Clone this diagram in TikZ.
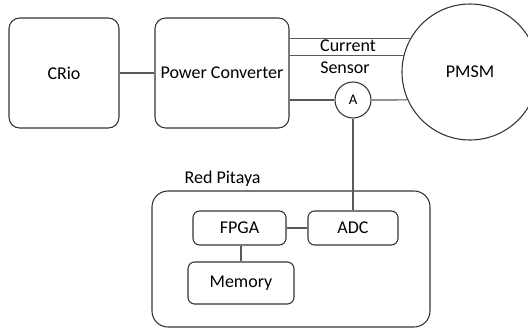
\documentclass[tikz,border=0pt]{standalone}
\usepackage{fontspec}
\setmainfont{Carlito}
\usetikzlibrary{positioning, fit, backgrounds}
\tikzset{
    blockbox/.style = {draw=black!80, line width=0.8pt, rounded corners=8pt, align=center,
                       inner sep=2pt, font=\fontsize{13.5}{16}\selectfont},
    subbox/.style   = {blockbox, rounded corners=5pt},
    motor/.style    = {draw=black!80, line width=0.8pt, circle, font=\fontsize{13.5}{16}\selectfont},
    meter/.style    = {draw=black!80, line width=0.8pt, circle, inner sep=0pt,
                       minimum size=36*0.75pt, font=\fontsize{11}{13}\selectfont},
    wire/.style     = {draw=black!65, line width=0.9pt},
    beschr/.style   = {font=\fontsize{13.5}{16}\selectfont, inner sep=1pt}
}

\begin{document}
\begin{tikzpicture}[x=0.75pt, y=-0.75pt]
        \useasboundingbox (0,0) rectangle (528,329);
        \clip (0,0) rectangle (528,329);

        \node[blockbox, minimum width=110*0.75pt, minimum height=110*0.75pt] (crio) at (64,73) {CRio};
        \node[blockbox, minimum width=134*0.75pt, minimum height=110*0.75pt] (pc) at (222,73) {Power Converter};
        \node[motor, minimum size=136*0.75pt] (pmsm) at (470,72) {PMSM};
        \node[meter] (amp) at (353,100) {A};

        \node[beschr] (cur) at (348,46) {Current};
        \node[beschr] (sens) at (345,68) {Sensor};

        % red pitaya board
        \node[blockbox, rounded corners=12pt, minimum width=278*0.75pt, minimum height=136*0.75pt] (rp) at (291,259) {};
        \node[beschr, anchor=south west] (rplab) at (183,188) {Red Pitaya};
        \node[subbox, minimum width=93*0.75pt, minimum height=34*0.75pt] (fpga) at (239.5,228) {FPGA};
        \node[subbox, minimum width=90*0.75pt, minimum height=34*0.75pt] (adc) at (353,228) {ADC};
        \node[subbox, minimum width=106*0.75pt, minimum height=42*0.75pt] (mem) at (241,283) {Memory};

        \draw[wire] (crio) -- (pc);
        \draw[wire] (pmsm.151) -- (pmsm.151 -| pc.east);
        \draw[wire] (pmsm.166) -- (pmsm.166 -| pc.east);
        \draw[wire] (pc.east |- amp) -- (amp);
        \draw[wire] (amp) -- (pmsm.204);
        \draw[wire] (amp) -- (adc);
        \draw[wire] (fpga) -- (adc);
        \draw[wire] (fpga.south -| mem.north) -- (mem.north);
    \end{tikzpicture}
\end{document}
